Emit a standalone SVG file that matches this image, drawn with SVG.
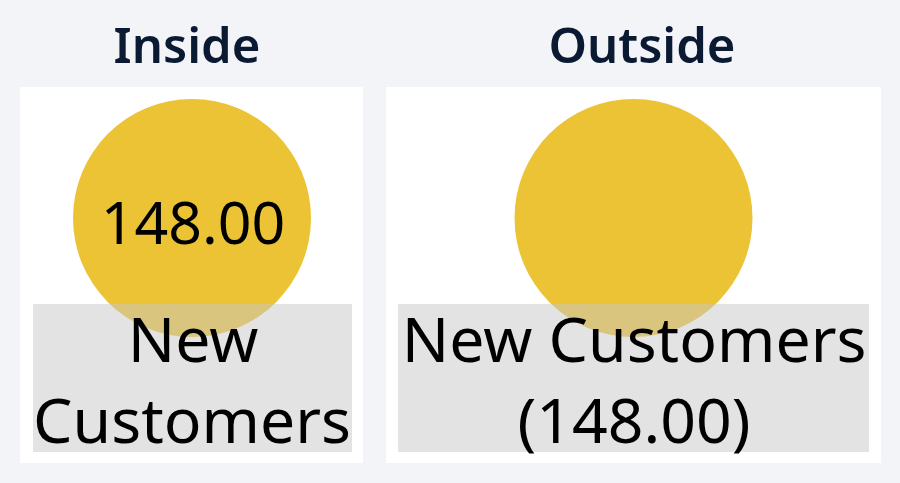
<svg xmlns="http://www.w3.org/2000/svg" width="900" height="483" viewBox="0 0 900 483">
<style>
.title{font-family:"Noto Sans","Open Sans",sans-serif;font-weight:600;font-size:49px;fill:#0b1a33;text-anchor:middle}
.lbl{font-family:"Noto Sans","Open Sans",sans-serif;font-size:62.5px;fill:#000;text-anchor:middle}
.val{font-size:59px}
.panel{fill:#fff}
.dot{fill:#ebc334}
.box{fill:#c8c8c8;fill-opacity:0.5}
</style>
<rect width="900" height="483" fill="#f3f4f8"/>
<g id="inside">
<text class="title" x="187" y="63">Inside</text>
<rect class="panel" x="20" y="87" width="343" height="376"/>
<circle class="dot" cx="192" cy="218" r="119"/>
<text class="lbl val" x="193" y="244">148.00</text>
<rect class="box" x="33" y="304" width="319" height="148"/>
<text class="lbl" x="193" y="362">New</text>
<text class="lbl" x="192" y="443">Customers</text>
</g>
<g id="outside">
<text class="title" x="642" y="63">Outside</text>
<rect class="panel" x="386" y="87" width="495" height="376"/>
<circle class="dot" cx="633.5" cy="218" r="119"/>
<rect class="box" x="398" y="304" width="471" height="148"/>
<text class="lbl" x="634" y="362">New Customers</text>
<text class="lbl" x="634" y="443">(148.00)</text>
</g>
</svg>
